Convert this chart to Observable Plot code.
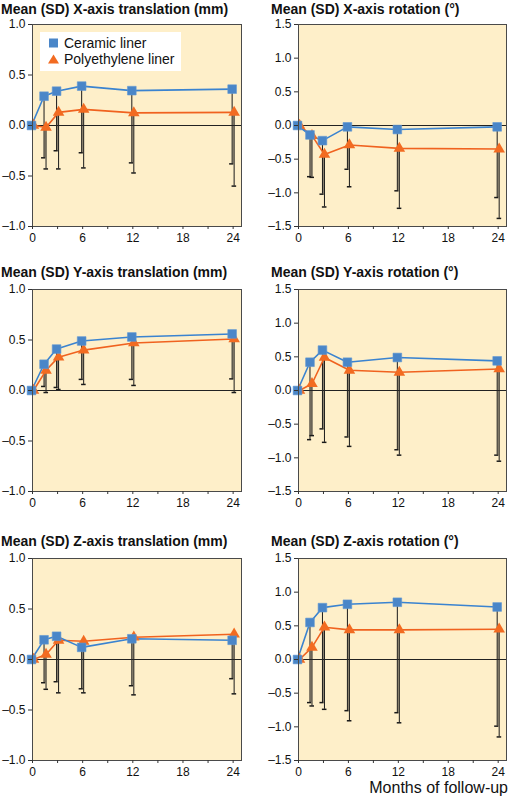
<!DOCTYPE html>
<html>
<head>
<meta charset="utf-8">
<script src="https://cdn.jsdelivr.net/npm/d3@7"></script>
<script src="https://cdn.jsdelivr.net/npm/@observablehq/plot@0.6"></script>
<style>
  html, body { margin: 0; padding: 0; background: #fff; }
  body { width: 510px; height: 798px; position: relative; overflow: hidden;
         font-family: "Liberation Sans", Arial, Helvetica, sans-serif; color: #111; }
  .title { position: absolute; font-size: 14px; font-weight: bold; line-height: 16px; white-space: nowrap; }
  .panel { position: absolute; }
  .legend { position: absolute; background: #fff; font-size: 14px; line-height: 16px; }
  .legend div { position: absolute; left: 24px; white-space: nowrap; }
  .xlabel { position: absolute; font-size: 16px; line-height: 18px; white-space: nowrap; }
</style>
</head>
<body>
<script>
// ---- Data ----
const months = [0, 1.5, 3, 6, 12, 24];
const xTicks = [0, 3, 6, 9, 12, 15, 18, 21, 24];
const xTickLabels = [0, 6, 12, 18, 24];
const seriesNames = ["Ceramic liner", "Polyethylene liner"];

const titles = [
  "Mean (SD) X-axis translation (mm)", "Mean (SD) X-axis rotation (°)",
  "Mean (SD) Y-axis translation (mm)", "Mean (SD) Y-axis rotation (°)",
  "Mean (SD) Z-axis translation (mm)", "Mean (SD) Z-axis rotation (°)"
];
const transTicks = [-1, -0.5, 0, 0.5, 1];
const rotTicks = [-1.5, -1, -0.5, 0, 0.5, 1, 1.5];

// means and lower SD ends (mean − SD)
const xTransCeramic = [0, 0.29, 0.34, 0.39, 0.345, 0.36];
const xTransCeramicLow = [null, -0.32, -0.25, -0.27, -0.37, -0.38];
const xTransPoly = [0, -0.02, 0.13, 0.16, 0.125, 0.13];
const xTransPolyLow = [null, -0.43, -0.43, -0.42, -0.47, -0.60];

const xRotCeramic = [0, -0.14, -0.225, -0.02, -0.06, -0.02];
const xRotCeramicLow = [null, -0.76, -1.02, -0.65, -0.97, -1.07];
const xRotPoly = [0, -0.15, -0.43, -0.29, -0.34, -0.35];
const xRotPolyLow = [null, -0.77, -1.21, -0.91, -1.23, -1.38];

const yTransCeramic = [0, 0.26, 0.41, 0.49, 0.53, 0.56];
const yTransCeramicLow = [null, 0.04, 0.03, 0.11, 0.11, 0.115];
const yTransPoly = [0, 0.20, 0.33, 0.40, 0.47, 0.51];
const yTransPolyLow = [null, -0.02, 0.01, 0.06, 0.05, -0.02];

const yRotCeramic = [0, 0.42, 0.60, 0.42, 0.49, 0.44];
const yRotCeramicLow = [null, -0.73, -0.57, -0.69, -0.88, -0.96];
const yRotPoly = [0, 0.10, 0.49, 0.30, 0.27, 0.32];
const yRotPolyLow = [null, -0.67, -0.77, -0.83, -0.96, -1.05];

const zTransCeramic = [0, 0.195, 0.23, 0.12, 0.205, 0.19];
const zTransCeramicLow = [null, -0.23, -0.22, -0.29, -0.26, -0.19];
const zTransPoly = [0, 0.05, 0.19, 0.18, 0.22, 0.25];
const zTransPolyLow = [null, -0.295, -0.33, -0.33, -0.35, -0.34];

const zRotCeramic = [0, 0.55, 0.77, 0.82, 0.85, 0.78];
const zRotCeramicLow = [null, -0.64, -0.64, -0.76, -0.79, -0.99];
const zRotPoly = [0, 0.18, 0.48, 0.44, 0.44, 0.45];
const zRotPolyLow = [null, -0.69, -0.74, -0.91, -0.94, -1.15];

// ---- Styling ----
const BG = "#feefc9";
const BLUE = "#3a83d0";
const BLUE_FILL = "#4a86c8";
const ORANGE = "#f0621f";
const ORANGE_FILL = "#f26b21";
const FONT = '"Liberation Sans", Arial, Helvetica, sans-serif';
const fmt = d => (d < 0 ? "\u2013" : "") + Math.abs(d).toFixed(1);

const panels = [
  {cer: xTransCeramic, cerLow: xTransCeramicLow, poly: xTransPoly, polyLow: xTransPolyLow, rot: false},
  {cer: xRotCeramic, cerLow: xRotCeramicLow, poly: xRotPoly, polyLow: xRotPolyLow, rot: true},
  {cer: yTransCeramic, cerLow: yTransCeramicLow, poly: yTransPoly, polyLow: yTransPolyLow, rot: false},
  {cer: yRotCeramic, cerLow: yRotCeramicLow, poly: yRotPoly, polyLow: yRotPolyLow, rot: true},
  {cer: zTransCeramic, cerLow: zTransCeramicLow, poly: zTransPoly, polyLow: zTransPolyLow, rot: false},
  {cer: zRotCeramic, cerLow: zRotCeramicLow, poly: zRotPoly, polyLow: zRotPolyLow, rot: true}
];

// layout (pixels)
const rowPlotTop = [24, 289, 558];
const titleTop = [1, 264, 533];
const PLOT_H = 202;
const M_TOP = 10, M_BOT = 24;

function makePanel(p) {
  const rows = months.map((m, i) => ({
    m, cer: p.cer[i], cerLow: p.cerLow[i], poly: p.poly[i], polyLow: p.polyLow[i]
  }));
  const bars = rows.filter(d => d.cerLow != null);
  const ticks = p.rot ? rotTicks : transTicks;
  const dom = p.rot ? [-1.5, 1.5] : [-1, 1];
  return Plot.plot({
    width: 255,
    height: M_TOP + PLOT_H + M_BOT,
    marginTop: M_TOP,
    marginBottom: M_BOT,
    marginLeft: p.rot ? 43 : 32,
    marginRight: p.rot ? 4 : 14,
    style: {fontFamily: FONT, fontSize: "12px", color: "#111", background: "transparent", overflow: "visible"},
    x: {domain: [0, 25]},
    y: {domain: dom},
    marks: [
      Plot.frame({fill: BG, stroke: "none"}),
      // overlap band between the two SD lines
      Plot.ruleX(bars, {x: "m", y1: d => Math.min(d.cer, d.poly), y2: d => Math.max(d.cerLow, d.polyLow), stroke: "#8a8170", strokeWidth: 1}),
      Plot.ruleX(bars, {x: "m", y1: "cer", y2: "cerLow", dx: -1, stroke: "#1a1a1a", strokeWidth: 1}),
      Plot.ruleX(bars, {x: "m", y1: "poly", y2: "polyLow", dx: 1, stroke: "#1a1a1a", strokeWidth: 1}),
      Plot.ruleY(bars, {y: "cerLow", x1: d => d.m - 0.3, x2: d => d.m + 0.2, dx: -1, stroke: "#1a1a1a", strokeWidth: 1.5}),
      Plot.ruleY(bars, {y: "polyLow", x1: d => d.m - 0.25, x2: d => d.m + 0.3, dx: 1, stroke: "#1a1a1a", strokeWidth: 1.5}),
      Plot.ruleY([0], {stroke: "#222", strokeWidth: 1}),
      Plot.line(rows, {x: "m", y: "poly", dx: 1, stroke: ORANGE, strokeWidth: 1.6}),
      Plot.line(rows, {x: "m", y: "cer", dx: -1, stroke: BLUE, strokeWidth: 1.6}),
      Plot.dot(rows, {x: "m", y: "poly", dx: 1, symbol: "triangle", r: 4.3, fill: ORANGE_FILL, stroke: "none"}),
      Plot.dot(rows, {x: "m", y: "cer", dx: -1, symbol: "square", r: 4.9, fill: BLUE_FILL, stroke: "#5f97d4", strokeWidth: 0.6}),
      Plot.frame({stroke: "#4a4a4a", strokeWidth: 1}),
      Plot.axisY({ticks, tickSize: 4, tickPadding: 3, tickFormat: fmt, label: null, stroke: "#333"}),
      Plot.axisX({ticks: xTicks, tickSize: 3, tickPadding: 4, label: null, stroke: "#333",
                  tickFormat: d => xTickLabels.includes(d) ? String(d) : ""})
    ]
  });
}

panels.forEach((p, i) => {
  const row = Math.floor(i / 2), col = i % 2;
  const t = document.createElement("div");
  t.className = "title";
  t.textContent = titles[i];
  t.style.top = titleTop[row] + "px";
  t.style.left = (col === 0 ? 1 : 271) + "px";
  document.body.appendChild(t);

  const holder = document.createElement("div");
  holder.className = "panel";
  holder.style.left = (col === 0 ? 0 : 255) + "px";
  holder.style.top = (rowPlotTop[row] - M_TOP) + "px";
  holder.appendChild(makePanel(p));
  document.body.appendChild(holder);
});

// Legend (in first panel)
const legend = document.createElement("div");
legend.className = "legend";
Object.assign(legend.style, {left: "40px", top: "32px", width: "141px", height: "39px"});
const ns = "http://www.w3.org/2000/svg";
const lsvg = document.createElementNS(ns, "svg");
lsvg.setAttribute("width", 24); lsvg.setAttribute("height", 39);
lsvg.style.position = "absolute"; lsvg.style.left = "0px"; lsvg.style.top = "0px";
lsvg.innerHTML =
  `<rect x="9" y="6.5" width="9" height="9" fill="${BLUE_FILL}"/>` +
  `<path d="M13.5,22.5 L19,31.5 L8,31.5 Z" fill="${ORANGE_FILL}"/>`;
legend.appendChild(lsvg);
seriesNames.forEach((name, k) => {
  const d = document.createElement("div");
  d.textContent = name;
  d.style.top = (k === 0 ? 3 : 19) + "px";
  legend.appendChild(d);
});
document.body.appendChild(legend);

const xl = document.createElement("div");
xl.className = "xlabel";
xl.textContent = "Months of follow-up";
Object.assign(xl.style, {right: "2px", top: "779px"});
document.body.appendChild(xl);
</script>
</body>
</html>
